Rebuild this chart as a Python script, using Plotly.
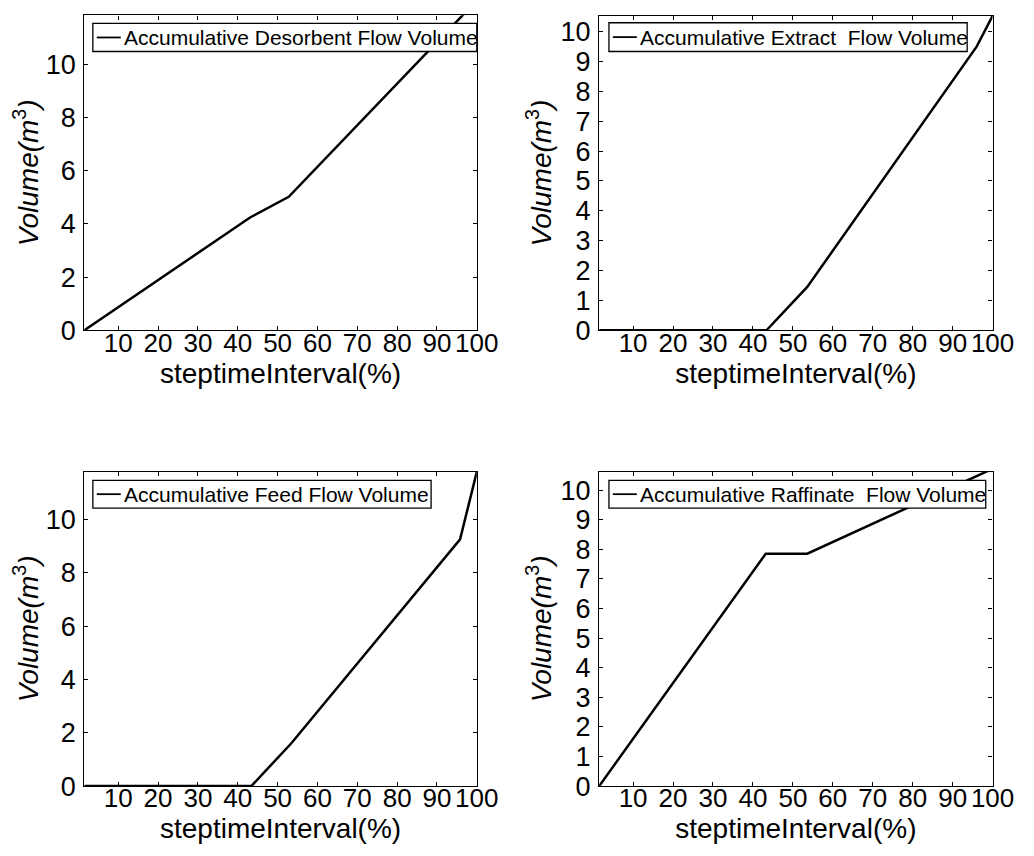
import plotly.graph_objects as go

# ---- data ----
desorbent_x = [1.5, 43.1, 52.8, 100]
desorbent_y = [0, 4.24, 5.02, 12.4]

extract_x = [1.5, 43.4, 53.6, 96.0, 100]
extract_y = [0, 0, 1.45, 9.5, 10.53]

feed_x = [1.5, 43.4, 53.4, 95.8, 100]
feed_y = [0, 0, 1.6, 9.26, 11.8]

raffinate_x = [1.5, 43.2, 53.6, 100]
raffinate_y = [0, 7.85, 7.85, 10.72]

names = ["Accumulative Desorbent Flow Volume",
         "Accumulative Extract  Flow Volume",
         "Accumulative Feed Flow Volume",
         "Accumulative Raffinate  Flow Volume"]

x_ticks = [10, 20, 30, 40, 50, 60, 70, 80, 90, 100]
y_ticks_left = [0, 2, 4, 6, 8, 10]
y_ticks_right = [0, 1, 2, 3, 4, 5, 6, 7, 8, 9, 10]
y_max = [11.84, 10.53, 11.8, 10.62]
x_range = [1.5, 100]

W, H = 1034, 856
FONT = "Liberation Sans"

fig = go.Figure()

series = [(desorbent_x, desorbent_y), (extract_x, extract_y),
          (feed_x, feed_y), (raffinate_x, raffinate_y)]

# panel geometry in pixels (left, right, top, bottom)
panels = [(78, 479, 7.5, 328), (604, 1006, 8, 328),
          (78, 479, 472, 792), (604, 1006, 472, 792)]
# legend box geometry in pixels (left, right, top, bottom)
legend_boxes = [(86.7, 479, 15.7, 44.3), (614, 980, 15, 44.3),
                (86.7, 432.3, 480.7, 509), (614, 999, 480.7, 509)]

def px(xp):
    return xp / W

def py(yp):
    return 1 - yp / H

shapes = []
annotations = []

for i, ((xs, ys), name) in enumerate(zip(series, names)):
    k = "" if i == 0 else str(i + 1)
    fig.add_trace(go.Scatter(
        x=xs, y=ys, mode="lines", name=name,
        line=dict(color="black", width=2.5),
        xaxis="x" + k, yaxis="y" + k, showlegend=False))

    l, r, t, b = panels[i]
    axcommon = dict(showline=True, linecolor="black", linewidth=1.3,
                    mirror="ticks", ticks="inside", ticklen=4,
                    tickwidth=1, tickcolor="black", showgrid=False,
                    zeroline=False)
    fig.update_layout(**{
        "xaxis" + k: dict(domain=[l / W, r / W], range=x_range,
                          tickvals=x_ticks, anchor="y" + k,
                          tickfont=dict(family=FONT, size=26, color="black"),
                          ticklabelstandoff=-11,
                          title=dict(text="steptimeInterval(%)",
                                     font=dict(family=FONT, size=28, color="black"),
                                     standoff=0),
                          **axcommon),
        "yaxis" + k: dict(domain=[1 - b / H, 1 - t / H], range=[0, y_max[i]],
                          tickvals=y_ticks_left if i % 2 == 0 else y_ticks_right,
                          anchor="x" + k,
                          tickfont=dict(family=FONT, size=27, color="black"),
                          ticklabelstandoff=2,
                          title=dict(text="<i>Volume(m</i><sup>3</sup><i>)</i>",
                                     font=dict(family=FONT, size=28, color="black"),
                                     standoff=0),
                          **axcommon),
    })

    # legend box (white, bordered) with line sample and label
    bl, br, bt, bb = legend_boxes[i]
    ym = (bt + bb) / 2
    shapes.append(dict(type="rect", xref="paper", yref="paper",
                       x0=px(bl), x1=px(br), y0=py(bb), y1=py(bt),
                       fillcolor="white", line=dict(color="black", width=1.3),
                       layer="above"))
    shapes.append(dict(type="line", xref="paper", yref="paper",
                       x0=px(bl + 4), x1=px(bl + 28.5), y0=py(ym), y1=py(ym),
                       line=dict(color="black", width=1.8), layer="above"))
    annotations.append(dict(text=name, xref="paper", yref="paper",
                            x=px(bl + 30), y=py(ym), xanchor="left",
                            yanchor="middle", showarrow=False,
                            font=dict(family=FONT, size=21, color="black")))

fig.update_layout(width=W, height=H, margin=dict(l=0, r=0, t=0, b=0),
                  paper_bgcolor="white", plot_bgcolor="white",
                  font=dict(family=FONT, color="black"),
                  shapes=shapes, annotations=annotations)

fig.write_html("out.html")
